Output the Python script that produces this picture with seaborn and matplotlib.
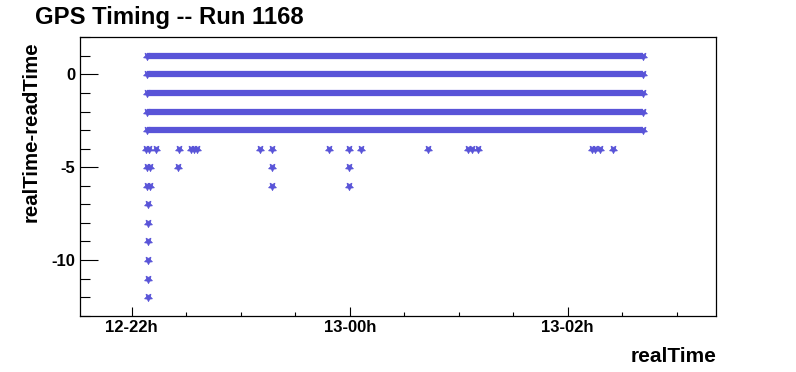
import matplotlib
matplotlib.use("Agg")
import matplotlib.pyplot as plt
import matplotlib.dates as mdates
import numpy as np
import pandas as pd
import seaborn as sns

# ---------------- data ----------------
BASE_DAY = "2008-06-"
# dense rows (one reading every few seconds over the whole run)
dense_values = [1, 0, -1, -2, -3]
dense_start = "12 22:08:30"
dense_end = "13 02:41:30"

# sparse readings (day hh:mm:ss) per value
sparse_times_m4 = ["12 22:07:54", "12 22:09:30", "12 22:13:24", "12 22:26:00",
                   "12 22:32:36", "12 22:34:18", "12 22:35:54", "12 23:10:36",
                   "12 23:17:12", "12 23:48:30", "12 23:59:24", "13 00:06:12",
                   "13 00:43:18", "13 01:05:00", "13 01:07:12", "13 01:10:48",
                   "13 02:13:12", "13 02:15:00", "13 02:17:48", "13 02:25:00"]
sparse_times_m5 = ["12 22:08:24", "12 22:10:06", "12 22:25:42", "12 23:17:12",
                   "12 23:59:24"]
sparse_times_m6 = ["12 22:08:24", "12 22:10:06", "12 23:17:12", "12 23:59:24"]
deep_time = "12 22:08:42"
deep_values = [-7, -8, -9, -10, -11, -12]

x_range = ["12 21:31:30", "13 03:21:42"]
y_range = [-13, 2]

title = "GPS Timing -- Run 1168"
xlabel = "realTime"
ylabel = "realTime-readTime"
COLOR = "#5954d8"


def ts(s):
    return pd.Timestamp(BASE_DAY + s)


# build tables
dense_rows = []
for v in dense_values:
    dense_rows.append({"time": ts(dense_start), "value": v, "row": str(v)})
    dense_rows.append({"time": ts(dense_end), "value": v, "row": str(v)})
dense_df = pd.DataFrame(dense_rows)

pts = []
for t in sparse_times_m4:
    pts.append({"time": ts(t), "value": -4})
for t in sparse_times_m5:
    pts.append({"time": ts(t), "value": -5})
for t in sparse_times_m6:
    pts.append({"time": ts(t), "value": -6})
for v in deep_values:
    pts.append({"time": ts(deep_time), "value": v})
# end markers of dense rows
for v in dense_values:
    pts.append({"time": ts(dense_start), "value": v})
    pts.append({"time": ts(dense_end), "value": v})
pts_df = pd.DataFrame(pts)

# ---------------- plot ----------------
sns.set_theme(style="white")
plt.rcParams["font.family"] = ["Liberation Sans", "DejaVu Sans"]
plt.rcParams["font.weight"] = "bold"
plt.rcParams["axes.unicode_minus"] = False
plt.rcParams["text.color"] = "black"
plt.rcParams["axes.labelcolor"] = "black"
plt.rcParams["xtick.color"] = "black"
plt.rcParams["ytick.color"] = "black"

fig = plt.figure(figsize=(7.96, 3.72), dpi=100)
ax = fig.add_axes([80 / 796, 1 - 315.7 / 372, (716 - 80) / 796, (315.7 - 37.3) / 372])

sns.lineplot(data=dense_df, x="time", y="value", units="row", estimator=None,
             color=COLOR, lw=4.5, ax=ax, legend=False)
for ln in ax.lines:
    ln.set_solid_capstyle("butt")

sns.scatterplot(data=pts_df, x="time", y="value", marker=(5, 1, 180), s=34,
                color=COLOR, edgecolor=COLOR, linewidth=0.6, ax=ax, legend=False)

ax.set_xlim(ts(x_range[0]), ts(x_range[1]))
ax.set_ylim(*y_range)

ax.xaxis.set_major_locator(mdates.HourLocator(byhour=range(0, 24, 2)))
ax.xaxis.set_minor_locator(mdates.MinuteLocator(byminute=[0, 30]))
ax.xaxis.set_major_formatter(mdates.DateFormatter("%d-%Hh"))
ax.yaxis.set_major_locator(matplotlib.ticker.MultipleLocator(5))
ax.yaxis.set_minor_locator(matplotlib.ticker.MultipleLocator(1))

ax.tick_params(axis="x", which="major", direction="in", length=6.5, width=0.8,
               labelsize=12, pad=3, bottom=True, top=False, colors="black")
ax.tick_params(axis="x", which="minor", direction="in", length=3.2, width=0.8,
               bottom=True, top=False, colors="black")
ax.tick_params(axis="y", which="major", direction="in", length=13, width=0.8,
               labelsize=12, pad=3.5, left=True, right=False, colors="black")
ax.tick_params(axis="y", which="minor", direction="in", length=7, width=0.8,
               left=True, right=False, colors="black")
for lab in ax.get_xticklabels() + ax.get_yticklabels():
    lab.set_fontweight("bold")
    lab.set_color("black")

for sp in ax.spines.values():
    sp.set_visible(True)
    sp.set_color("black")
    sp.set_linewidth(0.9)

ax.set_xlabel("")
ax.set_ylabel("")
ax.grid(False)

fig.text(35 / 796, 1 - 24 / 372, title, fontsize=17.2, fontweight="bold",
         ha="left", va="baseline", color="black")
fig.text(716 / 796, 1 - 361.5 / 372, xlabel, fontsize=15, fontweight="bold",
         ha="right", va="baseline", color="black")
fig.text(31 / 796, 1 - 41 / 372, ylabel, fontsize=14.7, fontweight="bold",
         ha="center", va="top", rotation=90, color="black")

fig.savefig("out.png", dpi=100, facecolor="white")
